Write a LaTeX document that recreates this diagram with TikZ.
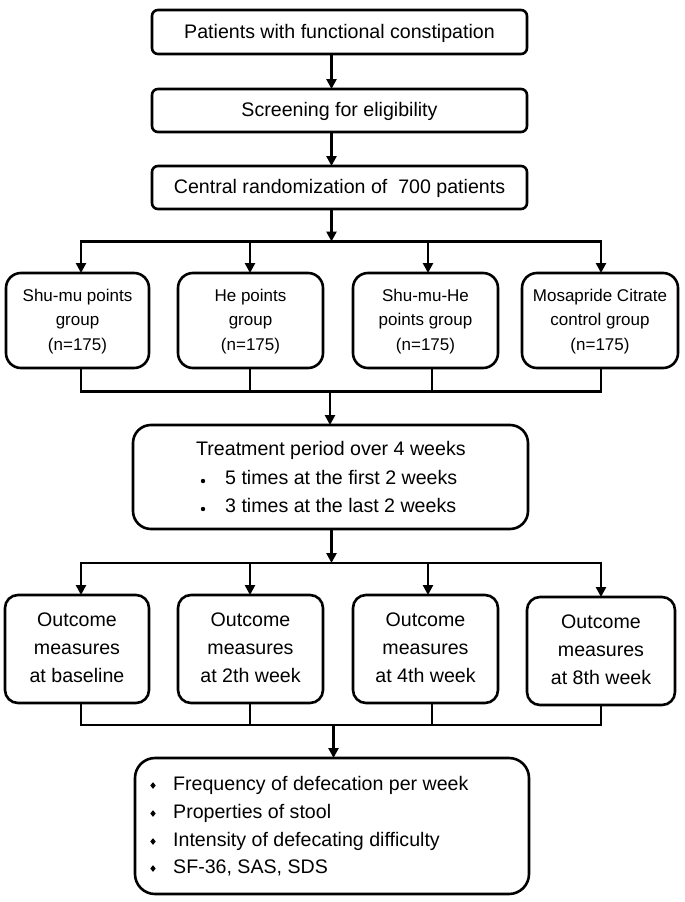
\documentclass[tikz,border=0pt]{standalone}
\usepackage{fontspec}
\setmainfont{Liberation Sans}
\usetikzlibrary{arrows.meta,calc}
\begin{document}
\begin{tikzpicture}[x=1pt,y=-1pt,
  box/.style={draw=black, line width=2.6pt, anchor=north west, inner sep=0pt, outer sep=0pt},
  conn/.style={draw=black, line width=2.6pt},
  arr/.style={conn, -{Triangle[length=10pt,width=10pt]}},
  big/.style={font=\fontsize{19.6}{24}\selectfont, inner sep=0pt, anchor=base},
  small/.style={font=\fontsize{17}{21}\selectfont, inner sep=0pt, anchor=base},
]
\fill[white] (0,0) rectangle (685,902);
\useasboundingbox (0,0) rectangle (685,902);

% boxes
\node[box, rounded corners=6pt, minimum width=375pt, minimum height=44pt] (b1) at (152,10) {};
\node[box, rounded corners=6pt, minimum width=375pt, minimum height=43pt] (b2) at (152,89) {};
\node[box, rounded corners=6pt, minimum width=375pt, minimum height=43pt] (b3) at (152,166) {};
\node[box, rounded corners=15pt, minimum width=143pt, minimum height=95pt] (gA) at (6,273) {};
\node[box, rounded corners=15pt, minimum width=145pt, minimum height=95pt] (gB) at (178,273) {};
\node[box, rounded corners=15pt, minimum width=145pt, minimum height=95pt] (gC) at (353,273) {};
\node[box, rounded corners=15pt, minimum width=156pt, minimum height=95pt] (gD) at (522,273) {};
\node[box, rounded corners=18pt, minimum width=395pt, minimum height=104pt] (T) at (133,425) {};
\node[box, rounded corners=13pt, minimum width=144pt, minimum height=108pt] (oA) at (5,595) {};
\node[box, rounded corners=13pt, minimum width=145pt, minimum height=108pt] (oB) at (178,595) {};
\node[box, rounded corners=13pt, minimum width=145pt, minimum height=108pt] (oC) at (353,595) {};
\node[box, rounded corners=13pt, minimum width=148pt, minimum height=108pt] (oD) at (527,597) {};
\node[box, rounded corners=20pt, minimum width=394pt, minimum height=136pt] (F) at (135,758) {};

% junctions
\coordinate (j1) at (331.5,241.5);
\coordinate (j2) at (330,391.5);
\coordinate (j3) at (331.5,563);
\coordinate (j4) at (333.5,725);
\coordinate (xA) at (81,0);
\coordinate (xB) at (250,0);
\coordinate (xC) at (428,0);
\coordinate (xCb) at (432,0);
\coordinate (xD) at (601,0);

% connectors
\draw[arr] (b1.south -| j1) -- (b2.north -| j1);
\draw[arr] (b2.south -| j1) -- (b3.north -| j1);
\draw[arr] (b3.south -| j1) -- (j1);
\draw[arr] (j1) -| (gA.north -| xA);
\draw[arr] (j1) -| (gB.north -| xB);
\draw[arr] (j1) -| (gC.north -| xC);
\draw[arr] (j1) -| (gD.north -| xD);
\draw[conn] (gA.south -| xA) -- (xA |- j2) -- (xD |- j2) -- (gD.south -| xD);
\draw[conn] (gB.south -| xB) -- (xB |- j2);
\draw[conn] (gC.south -| xCb) -- (xCb |- j2);
\draw[arr] (j2) -- (T.north -| j2);
\draw[arr] (T.south -| j3) -- (j3);
\draw[arr] (j3) -| (oA.north -| xA);
\draw[arr] (j3) -| (oB.north -| xB);
\draw[arr] (j3) -| (oC.north -| xC);
\draw[arr] (j3) -| (oD.north -| xD);
\draw[conn] (oA.south -| xA) -- (xA |- j4) -- (xD |- j4) -- (oD.south -| xD);
\draw[conn] (oB.south -| xB) -- (xB |- j4);
\draw[conn] (oC.south -| xCb) -- (xCb |- j4);
\draw[arr] (j4) -- (F.north -| j4);

% texts top
\node[big] (t1) at (b1.center |- 0,38) {Patients with functional constipation};
\node[big] (t2) at (b2.center |- 0,116) {Screening for eligibility};
\node[big] (t3) at (b3.center |- 0,193.5) {Central randomization of\ \ 700 patients};

% group texts
\node[small] (gA1) at (gA.center |- 0,301) {Shu-mu points};
\node[small] (gA2) at (gA.center |- 0,325.5) {group};
\node[small] (gA3) at (gA.center |- 0,350) {(n=175)};
\node[small] (gB1) at (gB.center |- 0,301) {He points};
\node[small] (gB2) at (gB.center |- 0,325.5) {group};
\node[small] (gB3) at (gB.center |- 0,350) {(n=175)};
\node[small] (gC1) at (gC.center |- 0,301) {Shu-mu-He};
\node[small] (gC2) at (gC.center |- 0,325.5) {points group};
\node[small] (gC3) at (gC.center |- 0,350) {(n=175)};
\node[small] (gD1) at (gD.center |- 0,301) {Mosapride Citrate};
\node[small] (gD2) at (gD.center |- 0,325.5) {control group};
\node[small] (gD3) at (gD.center |- 0,350) {(n=175)};

% treatment
\node[big, anchor=base west] (tt1) at (196,455) {Treatment period over 4 weeks};
\node[big, anchor=base west] (tt2) at (225,484) {5 times at the first 2 weeks};
\node[big, anchor=base west] (tt3) at (225,512) {3 times at the last 2 weeks};
\fill (203,481) circle[radius=2.2pt];
\fill (203,509) circle[radius=2.2pt];

% outcome texts
\node[big] (oA1) at (oA.center |- 0,626) {Outcome};
\node[big] (oA2) at (oA.center |- 0,654) {measures};
\node[big] (oA3) at (oA.center |- 0,682) {at baseline};
\node[big] (oB1) at (oB.center |- 0,626) {Outcome};
\node[big] (oB2) at (oB.center |- 0,654) {measures};
\node[big] (oB3) at (oB.center |- 0,682) {at 2th week};
\node[big] (oC1) at (oC.center |- 0,626) {Outcome};
\node[big] (oC2) at (oC.center |- 0,654) {measures};
\node[big] (oC3) at (oC.center |- 0,682) {at 4th week};
\node[big] (oD1) at (oD.center |- 0,628.5) {Outcome};
\node[big] (oD2) at (oD.center |- 0,656.5) {measures};
\node[big] (oD3) at (oD.center |- 0,684.5) {at 8th week};

% final
\node[big, anchor=base west] (f1) at (173,790) {Frequency of defecation per week};
\node[big, anchor=base west] (f2) at (173,818) {Properties of stool};
\node[big, anchor=base west] (f3) at (173,846) {Intensity of defecating difficulty};
\node[big, anchor=base west] (f4) at (173,873) {SF-36, SAS, SDS};
\foreach \yy in {785.5,813.5,841.5,868.5}
  \fill (153,\yy) +(0,-3.3) -- +(2.7,0) -- +(0,3.3) -- +(-2.7,0) -- cycle;
\end{tikzpicture}
\end{document}
